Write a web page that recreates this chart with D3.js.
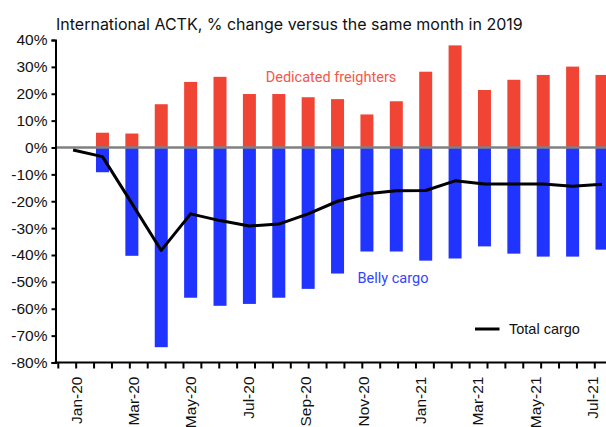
<!DOCTYPE html>
<html>
<head>
<meta charset="utf-8">
<script src="https://cdn.jsdelivr.net/npm/d3@7"></script>
<style>
  html, body { margin: 0; padding: 0; background: #fff; }
  svg { display: block; }
  text { font-family: "Liberation Sans", Arial, sans-serif; }
</style>
</head>
<body>
<svg id="chart" width="606" height="427"></svg>
<script>
const months = ["Jan-20","Feb-20","Mar-20","Apr-20","May-20","Jun-20","Jul-20","Aug-20","Sep-20","Oct-20","Nov-20","Dec-20",
                "Jan-21","Feb-21","Mar-21","Apr-21","May-21","Jun-21","Jul-21"];
const freighters = [null, 5.5, 5.2, 16.1, 24.4, 26.3, 19.9, 19.9, 18.7, 18.0, 12.3, 17.2, 28.2, 38.0, 21.4, 25.2, 27.0, 30.1, 27.0];
const belly      = [null, -9.2, -40.3, -74.3, -55.9, -58.9, -58.2, -55.9, -52.6, -46.9, -38.7, -38.7, -42.1, -41.3, -36.8, -39.5, -40.6, -40.6, -38.0];
const total      = [-0.9, -3.4, -20.8, -38.3, -24.7, -27.2, -29.2, -28.5, -24.7, -20.0, -17.2, -16.1, -16.0, -12.4, -13.6, -13.6, -13.6, -14.4, -13.7];
const yTicks = [40, 30, 20, 10, 0, -10, -20, -30, -40, -50, -60, -70, -80];
const labelIdx = [0, 2, 4, 6, 8, 10, 12, 14, 16, 18];

const title = "International ACTK, % change versus the same month in 2019";
const RED = "#f04535", BLUE = "#2033ff";

const svg = d3.select("#chart");
const idx = d3.range(months.length);

const x = d3.scaleLinear().domain([0, 18]).range([73.1, 602.0]);
const xLab = d3.scaleLinear().domain([0, 18]).range([75.7, 592.3]);
const xMinor = d3.scaleLinear().domain([0, 30]).range([57.8, 594.3]);
const y = d3.scaleLinear().domain([-80, 40]).range([362.5, 40]);
const bw = 13;

// title
svg.append("text").attr("x", 56).attr("y", 29.5)
  .attr("font-size", 16).attr("fill", "#111").style("font-family", "Inter, 'Liberation Sans', sans-serif")
  .text(title);

// bars
svg.append("g").selectAll("rect").data(idx.filter(i => freighters[i] != null)).join("rect")
  .attr("x", i => x(i) - bw / 2).attr("width", bw)
  .attr("y", i => y(freighters[i])).attr("height", i => y(0) - y(freighters[i]))
  .attr("fill", RED);
svg.append("g").selectAll("rect").data(idx.filter(i => belly[i] != null)).join("rect")
  .attr("x", i => x(i) - bw / 2).attr("width", bw)
  .attr("y", y(0)).attr("height", i => y(belly[i]) - y(0))
  .attr("fill", BLUE);

// zero line
svg.append("line").attr("x1", 56).attr("x2", 606).attr("y1", y(0)).attr("y2", y(0))
  .attr("stroke", "#808080").attr("stroke-width", 2.4);

// total line
svg.append("path").datum(idx)
  .attr("d", d3.line().x(i => x(i)).y(i => y(total[i])))
  .attr("fill", "none").attr("stroke", "#000").attr("stroke-width", 3).attr("stroke-linejoin", "round");

// y axis
const ya = svg.append("g").attr("transform", "translate(55.5,0)")
  .call(d3.axisLeft(y).tickValues(yTicks).tickFormat(d => d + "%").tickSize(4).tickPadding(4));
ya.select(".domain").attr("stroke", "#000").attr("stroke-width", 2);
ya.selectAll(".tick line").attr("stroke", "#000").attr("stroke-width", 2);
ya.selectAll(".tick text").attr("font-size", 15.5).attr("fill", "#111")
  .style("font-family", "'Liberation Sans', Arial, sans-serif");

// x axis minor ticks
const xm = svg.append("g").attr("transform", "translate(0,362.5)")
  .call(d3.axisBottom(xMinor).tickValues(d3.range(0, 31)).tickFormat("").tickSize(6).tickSizeOuter(0));
xm.select(".domain").remove();
xm.selectAll(".tick line").attr("stroke", "#000").attr("stroke-width", 2);
svg.append("line").attr("x1", 54.5).attr("x2", 606).attr("y1", 362.5).attr("y2", 362.5)
  .attr("stroke", "#000").attr("stroke-width", 2);

// x labels
const xl = svg.append("g").attr("transform", "translate(0,362.5)")
  .call(d3.axisBottom(xLab).tickValues(labelIdx).tickFormat(i => months[i]).tickSize(0));
xl.select(".domain").remove();
xl.selectAll(".tick text")
  .attr("font-size", 15.5).attr("fill", "#111")
  .style("font-family", "'Liberation Sans', Arial, sans-serif")
  .attr("text-anchor", "end")
  .attr("transform", "rotate(-90)")
  .attr("x", -14).attr("y", 0).attr("dy", "0.35em");

// series labels
svg.append("text").attr("x", 331).attr("y", 82).attr("text-anchor", "middle")
  .attr("font-size", 14.5).attr("fill", "#f2584b").style("font-family", "Roboto, sans-serif")
  .text("Dedicated freighters");
svg.append("text").attr("x", 393).attr("y", 283).attr("text-anchor", "middle")
  .attr("font-size", 14.5).attr("fill", "#3344ff").style("font-family", "Roboto, sans-serif")
  .text("Belly cargo");

// legend
svg.append("line").attr("x1", 475).attr("x2", 499.5).attr("y1", 329).attr("y2", 329)
  .attr("stroke", "#000").attr("stroke-width", 3);
svg.append("text").attr("x", 509).attr("y", 333.5).attr("font-size", 14.5).attr("fill", "#111")
  .text("Total cargo");
</script>
</body>
</html>
